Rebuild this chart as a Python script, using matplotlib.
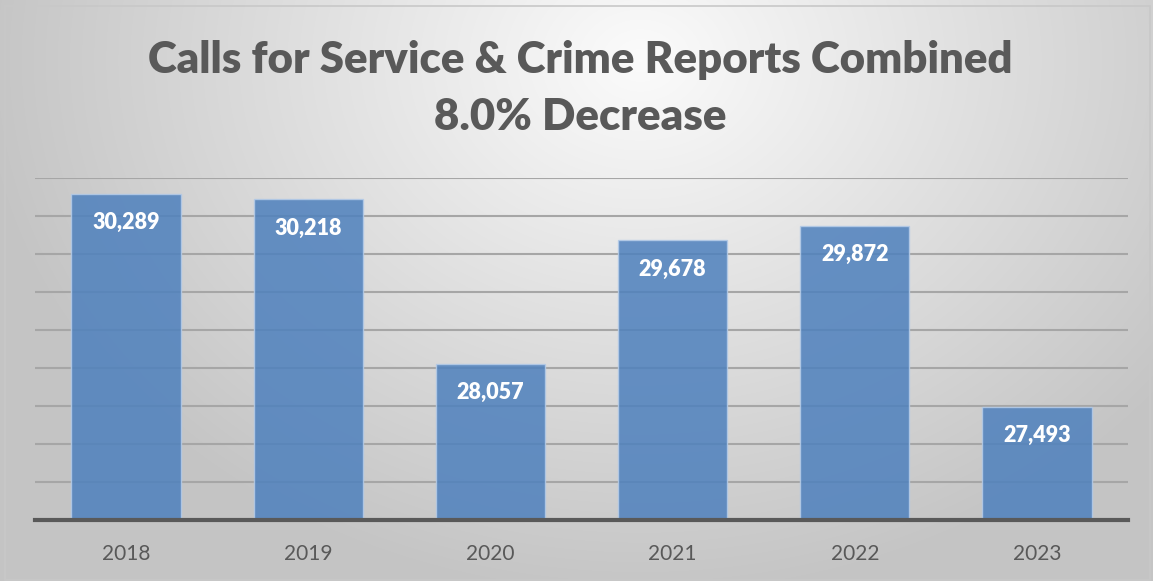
import matplotlib
matplotlib.use('Agg')

import numpy as np
import matplotlib.pyplot as plt
from matplotlib.patches import Rectangle

years = ['2018', '2019', '2020', '2021', '2022', '2023']
totals = [30289, 30218, 28057, 29678, 29872, 27493]
title_lines = ['Calls for Service & Crime Reports Combined', '8.0% Decrease']

W, H = 1153, 581
fig = plt.figure(figsize=(W / 100, H / 100), dpi=100)

# soft radial grey background, brightest near the upper middle
bg = fig.add_axes([0, 0, 1, 1], zorder=0)
yy, xx = np.mgrid[0:H, 0:W]
r = np.sqrt(((xx - 640) / 740.0) ** 2 + ((yy - 60) / 600.0) ** 2)
shade = np.clip(0.985 - 0.24 * r, 0.77, 1.0)
bg.imshow(np.dstack([shade] * 3), extent=[0, 1, 0, 1], aspect='auto', origin='upper')
bg.set_xlim(0, 1)
bg.set_ylim(0, 1)
bg.axis('off')
bg.add_patch(Rectangle((5 / W, 1 / H), 1145 / W, 574 / H, fill=False,
                       edgecolor='#c8c8c8', lw=1.2))

ax = fig.add_axes([35 / W, 1 - 520 / H, 1093 / W, 342 / H], zorder=1)
ax.patch.set_alpha(0)
x = np.arange(len(years))
bars = ax.bar(x, totals, width=0.6, color='#4f81bd', alpha=0.86,
              edgecolor='#b4cbe8', linewidth=1.0, zorder=3)

ax.set_xlim(-0.5, len(years) - 0.5)
ax.set_ylim(26000, 30500)
ax.set_yticks(np.arange(26500, 30501, 500))
ax.yaxis.grid(True, color='#a6a6a6', lw=1.5, zorder=1)
ax.tick_params(axis='y', left=False, labelleft=False)
ax.tick_params(axis='x', bottom=False, labelsize=15, labelcolor='#595959', pad=14)
ax.set_xticks(x)
ax.set_xticklabels(years, family='Lato')
for s in ['top', 'left', 'right']:
    ax.spines[s].set_visible(False)
ax.spines['bottom'].set_color('#595959')
ax.spines['bottom'].set_linewidth(3)
ax.spines['bottom'].set_zorder(4)

for xi, v in zip(x, totals):
    ax.annotate(f'{v:,}', (xi, v), xytext=(0, -13), textcoords='offset points',
                ha='center', va='top', color='white', fontsize=15.5,
                fontweight='heavy', family='Lato', zorder=5)

fig.text(0.503, 1 - 60 / H, title_lines[0], ha='center', va='center',
         fontsize=31.5, fontweight='heavy', color='#595959', family='Lato')
fig.text(0.503, 1 - 117 / H, title_lines[1], ha='center', va='center',
         fontsize=31.5, fontweight='heavy', color='#595959', family='Lato')

plt.savefig('out.png', dpi=100)
